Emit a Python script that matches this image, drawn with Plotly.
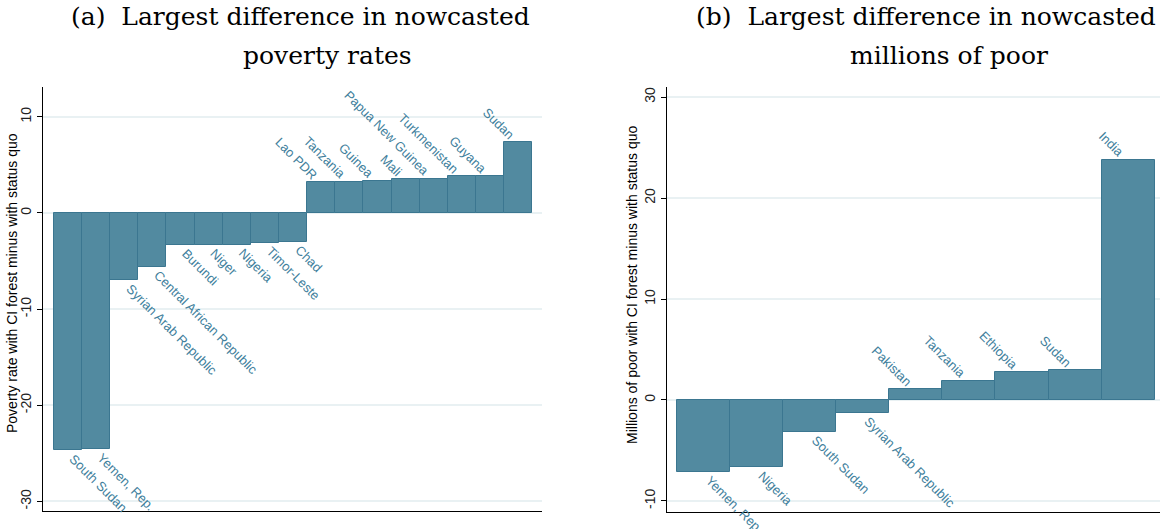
import plotly.graph_objects as go

# Panel (a): poverty rate differences
cats_a = ["South Sudan", "Yemen, Rep.", "Syrian Arab Republic", "Central African Republic",
          "Burundi", "Niger", "Nigeria", "Timor-Leste", "Chad", "Lao PDR", "Tanzania",
          "Guinea", "Mali", "Papua New Guinea", "Turkmenistan", "Guyana", "Sudan"]
vals_a = [-24.7, -24.6, -7.0, -5.6, -3.35, -3.35, -3.3, -3.1, -3.0,
          3.2, 3.25, 3.35, 3.5, 3.55, 3.8, 3.85, 7.4]

# Panel (b): millions of poor differences
cats_b = ["Yemen, Rep.", "Nigeria", "South Sudan", "Syrian Arab Republic",
          "Pakistan", "Tanzania", "Ethiopia", "Sudan", "India"]
vals_b = [-7.15, -6.65, -3.2, -1.3, 1.1, 1.9, 2.75, 3.0, 23.8]

ticks_a = [-30, -20, -10, 0, 10]
ticks_b = [-10, 0, 10, 20, 30]

BAR = "#528aa0"
EDGE = "#3b7690"
LAB = "#41809c"
GRID = "#e9f1f3"
W, H = 1162, 529

fig = go.Figure()
fig.add_trace(go.Bar(x=list(range(len(cats_a))), y=vals_a, width=1,
                     marker=dict(color=BAR, line=dict(color=EDGE, width=1)),
                     xaxis="x", yaxis="y", showlegend=False, hoverinfo="skip"))
fig.add_trace(go.Bar(x=list(range(len(cats_b))), y=vals_b, width=1,
                     marker=dict(color=BAR, line=dict(color=EDGE, width=1)),
                     xaxis="x2", yaxis="y2", showlegend=False, hoverinfo="skip"))

annotations = []
lab_font = dict(family="Liberation Sans, Arial", size=13, color=LAB)
def bar_labels(cats, vals, xr, yr):
    for i, (c, v) in enumerate(zip(cats, vals)):
        if v < 0:
            annotations.append(dict(x=i, y=v, xref=xr, yref=yr, text=c, showarrow=False,
                                    textangle=45, xanchor="left", yanchor="top",
                                    xshift=-4, yshift=2, font=lab_font))
        else:
            annotations.append(dict(x=i, y=v, xref=xr, yref=yr, text=c, showarrow=False,
                                    textangle=45, xanchor="right", yanchor="bottom",
                                    xshift=2, yshift=-3, font=lab_font))

bar_labels(cats_a, vals_a, "x", "y")
bar_labels(cats_b, vals_b, "x2", "y2")

title_font = dict(family="DejaVu Serif, Liberation Serif, serif", size=25, color="black")
annotations += [
    dict(x=300 / W, y=1 - 17 / H, xref="paper", yref="paper", text="(a)  Largest difference in nowcasted",
         showarrow=False, xanchor="center", yanchor="middle", font=title_font),
    dict(x=327 / W, y=1 - 55 / H, xref="paper", yref="paper", text="poverty rates",
         showarrow=False, xanchor="center", yanchor="middle", font=title_font),
    dict(x=926 / W, y=1 - 17 / H, xref="paper", yref="paper", text="(b)  Largest difference in nowcasted",
         showarrow=False, xanchor="center", yanchor="middle", font=title_font),
    dict(x=949 / W, y=1 - 55 / H, xref="paper", yref="paper", text="millions of poor",
         showarrow=False, xanchor="center", yanchor="middle", font=title_font),
    dict(x=12 / W, y=1 - 283 / H, xref="paper", yref="paper",
         text="Poverty rate with CI forest minus with status quo", textangle=-90,
         showarrow=False, xanchor="center", yanchor="middle",
         font=dict(family="Liberation Sans, Arial", size=14, color="black")),
    dict(x=632 / W, y=1 - 285 / H, xref="paper", yref="paper",
         text="Millions of poor with CI forest minus with status quo", textangle=-90,
         showarrow=False, xanchor="center", yanchor="middle",
         font=dict(family="Liberation Sans, Arial", size=14, color="black")),
]

yax_common = dict(showgrid=True, gridcolor=GRID, gridwidth=1.5, zeroline=False,
                  showline=True, linecolor="black", linewidth=1.3, ticks="outside",
                  ticklen=5, tickcolor="black", tickangle=-90,
                  tickfont=dict(family="Liberation Sans, Arial", size=14, color="#222"))
xax_common = dict(showgrid=False, zeroline=False, showticklabels=False, ticks="",
                  showline=True, linecolor="black", linewidth=1.3)

fig.update_layout(
    width=W, height=H, margin=dict(l=0, r=0, t=0, b=0),
    paper_bgcolor="white", plot_bgcolor="white", bargap=0,
    xaxis=dict(domain=[43 / W, 542 / W], range=[-0.89, 16.85], anchor="y", **xax_common),
    yaxis=dict(domain=[1 - 511 / H, 1 - 87 / H], range=[-31.0, 13.1], anchor="x",
               tickvals=ticks_a, ticktext=[str(t) for t in ticks_a], **yax_common),
    xaxis2=dict(domain=[667 / W, 1160 / W], range=[-0.69, 8.6], anchor="y2", **xax_common),
    yaxis2=dict(domain=[1 - 512 / H, 1 - 87 / H], range=[-11.1, 31.0], anchor="x2",
                tickvals=ticks_b, ticktext=[str(t) for t in ticks_b], **yax_common),
    annotations=annotations,
)

fig.write_html("out.html", config={"displayModeBar": False},
               post_script="document.body.style.margin='0';document.body.style.padding='0';"
                           "document.body.style.overflow='hidden';")
